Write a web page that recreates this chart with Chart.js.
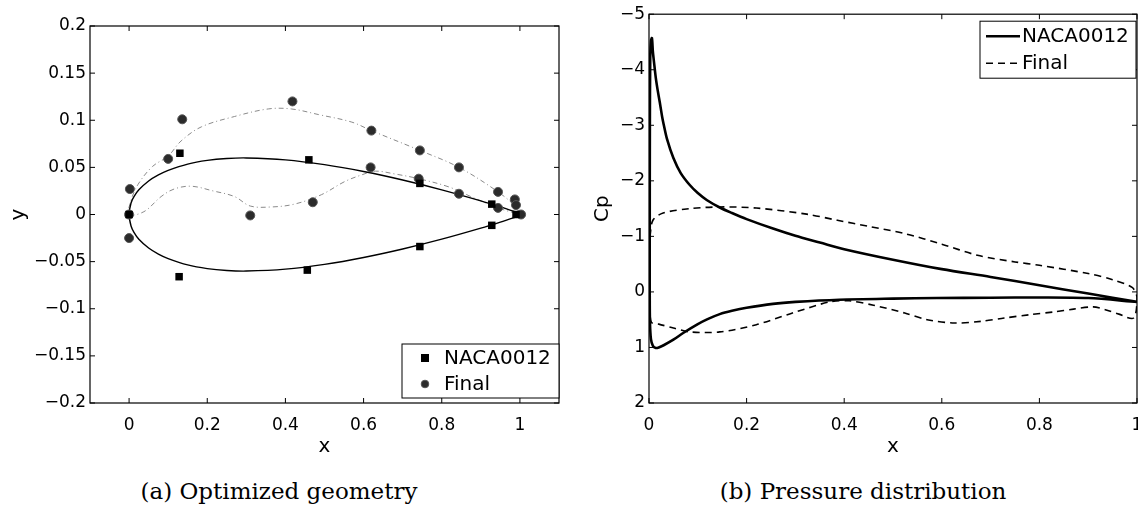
<!DOCTYPE html>
<html><head><meta charset="utf-8">
<script src="https://cdn.jsdelivr.net/npm/chart.js@4"></script>
<style>
html,body{margin:0;padding:0;background:#fff;overflow:hidden;width:1138px;height:511px;position:relative}
#c1{position:absolute;left:0;top:0}
#c2{position:absolute;left:575px;top:0}
.cap{position:absolute;top:480px;font-family:'DejaVu Serif',serif;font-size:23px;line-height:23px;color:#000;white-space:nowrap;transform:translateX(-50%)}
</style></head>
<body>
<canvas id="c1" width="580" height="460" style="width:580px;height:460px"></canvas>
<canvas id="c2" width="580" height="460" style="width:580px;height:460px"></canvas>
<div class="cap" style="left:279px">(a) Optimized geometry</div>
<div class="cap" style="left:863px">(b) Pressure distribution</div>
<script>
// ---------- tick labels ----------
const xTicksA = [0, 0.2, 0.4, 0.6, 0.8, 1];
const yTicksA = [-0.2, -0.15, -0.1, -0.05, 0, 0.05, 0.1, 0.15, 0.2];
const xTicksB = [0, 0.2, 0.4, 0.6, 0.8, 1];
const yTicksB = [-5, -4, -3, -2, -1, 0, 1, 2];
const seriesNames = ['NACA0012', 'Final'];

// ---------- (a) geometry ----------
const nacaCurveX = [1, 0.95, 0.9, 0.8, 0.7, 0.6, 0.5, 0.4, 0.3, 0.25, 0.2, 0.15, 0.1, 0.075, 0.05, 0.025, 0.0125, 0.005, 0,
                    0.005, 0.0125, 0.025, 0.05, 0.075, 0.1, 0.15, 0.2, 0.25, 0.3, 0.4, 0.5, 0.6, 0.7, 0.8, 0.9, 0.95, 1];
const nacaCurveY = [0.0013, 0.0081, 0.0145, 0.0262, 0.0366, 0.0456, 0.0529, 0.0580, 0.0600, 0.0594, 0.0574, 0.0535, 0.0468, 0.0420, 0.0356, 0.0262, 0.0189, 0.0122, 0,
                    -0.0122, -0.0189, -0.0262, -0.0356, -0.0420, -0.0468, -0.0535, -0.0574, -0.0594, -0.0600, -0.0580, -0.0529, -0.0456, -0.0366, -0.0262, -0.0145, -0.0081, -0.0013];
const nacaPtsX = [0, 0.13, 0.46, 0.744, 0.928, 0.99, 0.928, 0.744, 0.456, 0.128];
const nacaPtsY = [0, 0.065, 0.058, 0.033, 0.011, 0, -0.0115, -0.034, -0.059, -0.066];

const finalCurveX = [1, 0.987, 0.944, 0.844, 0.744, 0.62, 0.57, 0.485, 0.415, 0.356, 0.27, 0.185, 0.133, 0.1, 0.06, 0.023, 0.005, 0,
                     0.038, 0.082, 0.115, 0.159, 0.215, 0.27, 0.31, 0.364, 0.423, 0.492, 0.552, 0.595, 0.63, 0.68, 0.741, 0.82, 0.88, 0.944, 1];
const finalCurveY = [0, 0.009, 0.024, 0.05, 0.068, 0.089, 0.098, 0.106, 0.112, 0.112, 0.104, 0.093, 0.078, 0.062, 0.051, 0.032, 0.015, 0,
                     0.003, 0.019, 0.027, 0.03, 0.025, 0.019, 0.009, 0.008, 0.011, 0.021, 0.035, 0.042, 0.046, 0.043, 0.038, 0.029, 0.018, 0.007, 0];
const finalPtsX = [0.002, 0, 0, 0.1, 0.136, 0.31, 0.418, 0.47, 0.62, 0.618, 0.744, 0.741, 0.844, 0.844, 0.944, 0.944, 0.987, 0.99, 1.003];
const finalPtsY = [0.027, 0, -0.025, 0.059, 0.101, -0.001, 0.12, 0.013, 0.089, 0.05, 0.068, 0.038, 0.05, 0.022, 0.024, 0.007, 0.016, 0.01, 0];

// ---------- (b) pressure ----------
const cpNacaX = [1, 0.9, 0.8, 0.7, 0.6, 0.5, 0.4, 0.35, 0.3, 0.254, 0.2, 0.17, 0.145, 0.119, 0.1, 0.084, 0.065, 0.05, 0.037, 0.03, 0.027, 0.022, 0.018, 0.014, 0.011, 0.008, 0.006, 0.004, 0.0025, 0.0018,
                 0.0015, 0.0015, 0.002, 0.004, 0.008, 0.014, 0.02, 0.03, 0.05, 0.07, 0.1, 0.12, 0.145, 0.17, 0.2, 0.254, 0.3, 0.39, 0.5, 0.59, 0.7, 0.8, 0.9, 1];
const cpNacaY = [0.18, 0.03, -0.12, -0.27, -0.41, -0.58, -0.77, -0.89, -1.01, -1.14, -1.31, -1.42, -1.52, -1.65, -1.78, -1.92, -2.14, -2.41, -2.75, -3.02, -3.15, -3.42, -3.62, -3.85, -4.08, -4.32, -4.57, -4.52, -4.2, -3.0,
                 -1.0, 0.0, 0.55, 0.85, 0.97, 1.01, 1.0, 0.96, 0.86, 0.74, 0.58, 0.49, 0.40, 0.34, 0.285, 0.215, 0.18, 0.14, 0.12, 0.11, 0.105, 0.1, 0.11, 0.18];
const cpFinalX = [0.002, 0.008, 0.029, 0.084, 0.145, 0.22, 0.323, 0.386, 0.45, 0.524, 0.6, 0.673, 0.75, 0.8, 0.9, 0.95, 0.99, 1.0,
                  0.993, 0.963, 0.935, 0.91, 0.87, 0.83, 0.78, 0.728, 0.68, 0.626, 0.57, 0.524, 0.46, 0.41, 0.37, 0.294, 0.22, 0.145, 0.084, 0.05, 0.02, 0.005, 0.002];
const cpFinalY = [-1.0, -1.29, -1.42, -1.50, -1.53, -1.51, -1.40, -1.29, -1.18, -1.05, -0.86, -0.66, -0.54, -0.48, -0.33, -0.22, -0.08, 0.1,
                  0.47, 0.40, 0.32, 0.27, 0.31, 0.36, 0.41, 0.47, 0.53, 0.56, 0.50, 0.38, 0.24, 0.16, 0.18, 0.38, 0.59, 0.72, 0.72, 0.65, 0.58, 0.55, 0.3];

const zip = (xs, ys) => xs.map((x, i) => ({x, y: ys[i]}));
const FONT = 'DejaVu Sans';
const fmt = v => String(v).replace('-', '\u2212');

// frame, inward ticks and legend box
const framePlugin = {
  id: 'frame',
  afterDatasetsDraw(chart, args, opts) {
    const {ctx, chartArea: a, scales: {x, y}} = chart;
    ctx.save();
    ctx.strokeStyle = '#000';
    ctx.lineWidth = 1.2;
    ctx.strokeRect(a.left, a.top, a.right - a.left, a.bottom - a.top);
    ctx.lineWidth = 1;
    ctx.beginPath();
    x.ticks.forEach(t => {
      const p = x.getPixelForValue(t.value);
      ctx.moveTo(p, a.bottom); ctx.lineTo(p, a.bottom - 5);
      ctx.moveTo(p, a.top); ctx.lineTo(p, a.top + 5);
    });
    y.ticks.forEach(t => {
      const p = y.getPixelForValue(t.value);
      ctx.moveTo(a.left, p); ctx.lineTo(a.left + 5, p);
      ctx.moveTo(a.right, p); ctx.lineTo(a.right - 5, p);
    });
    ctx.stroke();
    // legend
    const L = opts;
    const bx = a.right - L.right - L.w;
    const by = L.fromBottom ? a.bottom - L.bottom - L.h : a.top + L.top;
    ctx.fillStyle = '#fff';
    ctx.fillRect(bx, by, L.w, L.h);
    ctx.strokeStyle = '#000';
    ctx.lineWidth = 1;
    ctx.strokeRect(bx, by, L.w, L.h);
    ctx.font = '20px "' + FONT + '"';
    ctx.textBaseline = 'middle';
    ctx.textAlign = 'left';
    L.items.forEach((it, i) => {
      const cy = by + L.rowTop + i * L.rowH;
      const ds = chart.data.datasets[it.ds];
      if (it.kind === 'marker') {
        const cx = bx + L.symX;
        ctx.fillStyle = ds.backgroundColor;
        ctx.strokeStyle = ds.borderColor;
        ctx.lineWidth = 1;
        if (ds.pointStyle === 'rect') {
          ctx.fillRect(cx - 4, cy - 4, 8, 8);
        } else {
          ctx.beginPath(); ctx.arc(cx, cy, 3.8, 0, Math.PI * 2); ctx.fill(); ctx.stroke();
        }
      } else {
        ctx.strokeStyle = ds.borderColor;
        ctx.lineWidth = ds.borderWidth;
        ctx.setLineDash(ds.borderDash || []);
        ctx.beginPath(); ctx.moveTo(bx + L.lineX0, cy); ctx.lineTo(bx + L.lineX1, cy); ctx.stroke();
        ctx.setLineDash([]);
      }
      ctx.fillStyle = '#000';
      ctx.fillText(it.text, bx + L.textX, cy + 1);
    });
    ctx.restore();
  }
};

function axes(xmin, xmax, ymin, ymax, xt, yt, xTitle, yTitle, yTitlePad, yWidth, reverse) {
  return {
    x: {
      type: 'linear', min: xmin, max: xmax,
      afterBuildTicks: s => { s.ticks = xt.map(v => ({value: v})); },
      afterFit: s => { s.height = 57; },
      grid: {display: false, drawTicks: false},
      border: {display: false},
      ticks: {padding: 12, color: '#000', font: {family: FONT, size: 17}, maxRotation: 0, autoSkip: false, callback: fmt},
      title: {display: true, text: xTitle, color: '#000', font: {family: FONT, size: 20}, padding: {top: 0, bottom: 1}}
    },
    y: {
      type: 'linear', min: ymin, max: ymax, reverse: reverse,
      afterBuildTicks: s => { s.ticks = yt.map(v => ({value: v})); },
      afterFit: s => { s.width = yWidth; },
      grid: {display: false, drawTicks: false},
      border: {display: false},
      ticks: {padding: 4, color: '#000', font: {family: FONT, size: 17}, autoSkip: false, callback: fmt},
      title: {display: true, text: yTitle, color: '#000', font: {family: FONT, size: 20}, padding: {top: yTitlePad, bottom: 0}}
    }
  };
}

Chart.defaults.animation = false;

new Chart(document.getElementById('c1'), {
  type: 'scatter',
  data: {
    datasets: [
      {label: seriesNames[0] + ' points', data: zip(nacaPtsX, nacaPtsY), showLine: false, pointStyle: 'rect', pointRadius: 5.3,
       backgroundColor: '#000', borderColor: '#000', borderWidth: 0, order: 0},
      {label: seriesNames[1] + ' points', data: zip(finalPtsX, finalPtsY), showLine: false, pointStyle: 'circle', pointRadius: 4.5,
       backgroundColor: '#2b2b2b', borderColor: '#555', borderWidth: 1, order: 0},
      {label: seriesNames[0], data: zip(nacaCurveX, nacaCurveY), showLine: true, pointRadius: 0, borderColor: '#000', borderWidth: 1.4,
       backgroundColor: '#000', tension: 0.35, fill: false, order: 1},
      {label: seriesNames[1], data: zip(finalCurveX, finalCurveY), showLine: true, pointRadius: 0, borderColor: '#8a8a8a', borderWidth: 1,
       borderDash: [5, 3, 1, 3], backgroundColor: '#8a8a8a', tension: 0.35, fill: false, order: 1}
    ]
  },
  options: {
    responsive: false, animation: false, events: [],
    layout: {padding: {top: 26, right: 21, left: 0, bottom: 0}},
    scales: axes(-0.1, 1.1, -0.2, 0.2, xTicksA, yTicksA, 'x', 'y', 7, 90, false),
    plugins: {
      legend: {display: false}, tooltip: {enabled: false},
      frame: {w: 157, h: 54, right: 0, bottom: 5, fromBottom: true, rowTop: 14, rowH: 26, symX: 23, textX: 42,
              items: [{ds: 0, kind: 'marker', text: seriesNames[0]}, {ds: 1, kind: 'marker', text: seriesNames[1]}]}
    }
  },
  plugins: [framePlugin]
});

new Chart(document.getElementById('c2'), {
  type: 'scatter',
  data: {
    datasets: [
      {label: seriesNames[0], data: zip(cpNacaX, cpNacaY), showLine: true, pointRadius: 0, borderColor: '#000', borderWidth: 2.6,
       backgroundColor: '#000', tension: 0.3, fill: false},
      {label: seriesNames[1], data: zip(cpFinalX, cpFinalY), showLine: true, pointRadius: 0, borderColor: '#000', borderWidth: 1.6,
       borderDash: [7, 5], backgroundColor: '#000', tension: 0.3, fill: false}
    ]
  },
  options: {
    responsive: false, animation: false, events: [],
    layout: {padding: {top: 14, right: 18, left: 0, bottom: 0}},
    scales: axes(0, 1, -5, 2, xTicksB, yTicksB, 'x', 'Cp', 16, 74, true),
    plugins: {
      legend: {display: false}, tooltip: {enabled: false},
      frame: {w: 156, h: 57, right: 1, top: 7, fromBottom: false, rowTop: 15, rowH: 27, lineX0: 6, lineX1: 40, textX: 42,
              items: [{ds: 0, kind: 'line', text: seriesNames[0]}, {ds: 1, kind: 'line', text: seriesNames[1]}]}
    }
  },
  plugins: [framePlugin]
});
</script>
</body></html>
